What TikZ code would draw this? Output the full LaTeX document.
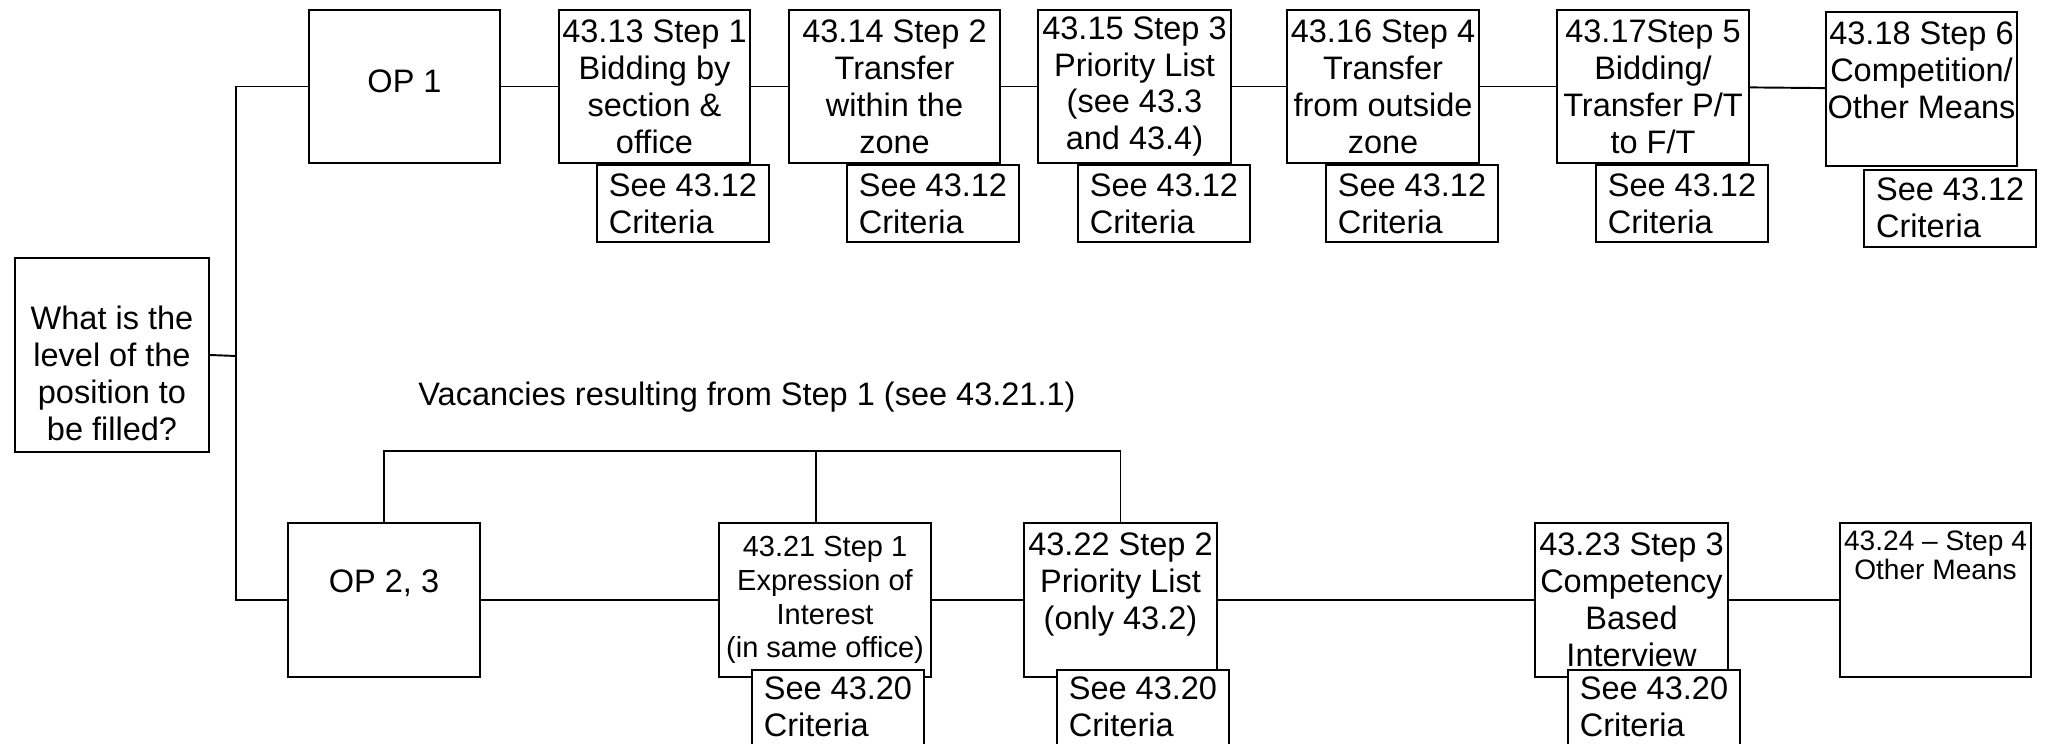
\documentclass[tikz,border=0pt]{standalone}
\usepackage{fontspec}
\setmainfont{Liberation Sans}
\usetikzlibrary{positioning, calc}

\begin{document}
\begin{tikzpicture}[
  stepbox/.style={rectangle, draw, line width=1.1pt, fill=white, align=center, inner sep=1pt, minimum width=3.84cm, minimum height=3.07cm, font=\fontsize{18.5}{21}\selectfont},
  critbox/.style={rectangle, draw, line width=1.1pt, fill=white, align=left, inner sep=1pt, minimum width=3.44cm, minimum height=1.54cm, font=\fontsize{18.5}{21}\selectfont},
  smalltext/.style={font=\fontsize{16.5}{19.3}\selectfont},
  link/.style={line width=1.1pt},
  trunk/.style={line width=0.7pt}
]
\useasboundingbox (0,0) rectangle (41.12,14.86);

% Question
\node[stepbox, minimum width=3.88cm, minimum height=3.88cm] (level) at (2.24,7.76) {\rule{0pt}{1.2cm}What is the\\level of the\\position to\\be filled?};
\coordinate (split) at (4.72,7.74);

% OP 1 stages
\node[stepbox, minimum width=3.82cm, text depth=0.2cm] (op1) at (8.09,13.13) {OP 1};
\node[stepbox, minimum width=3.82cm] (s1) at (13.09,13.13) {43.13 Step 1\\Bidding by\\section \&\\office};
\node[stepbox, minimum width=4.22cm] (s2) at (17.89,13.13) {43.14 Step 2\\Transfer\\within the\\zone};
\node[stepbox, minimum width=3.86cm] (s3) at (22.69,13.13) {43.15 Step 3\\Priority List\\(see 43.3\\and 43.4)};
\node[stepbox] (s4) at (27.66,13.13) {43.16 Step 4\\Transfer\\from outside\\zone};
\node[stepbox] (s5) at (33.06,13.13) {43.17Step 5\\Bidding/\\Transfer P/T\\to F/T};
\node[stepbox, minimum width=3.82cm] (s6) at (38.43,13.08) {43.18 Step 6\\Competition/\\Other Means\\~};

% Connectors OP 1
\draw[link] (split) -- (level.east);
\draw[trunk] (op1.west) -| (split);
\draw[link] (op1) -- (s1);
\draw[link] (s1) -- (s2);
\draw[link] (s2) -- (s3);
\draw[link] (s3) -- (s4);
\draw[link] (s4) -- (s5);
\draw[link] (s5) -- (s6);

% Criteria OP 1
\node[critbox, anchor=north east] (c1) at ($(s1.south east)+(0.38,0)$) {See 43.12\\Criteria};
\node[critbox, anchor=north east] (c2) at ($(s2.south east)+(0.38,0)$) {See 43.12\\Criteria};
\node[critbox, anchor=north east] (c3) at ($(s3.south east)+(0.38,0)$) {See 43.12\\Criteria};
\node[critbox, anchor=north east] (c4) at ($(s4.south east)+(0.38,0)$) {See 43.12\\Criteria};
\node[critbox, anchor=north east] (c5) at ($(s5.south east)+(0.38,0)$) {See 43.12\\Criteria};
\node[critbox, anchor=north east] (c6) at ($(s6.south east)+(0.38,-0.04)$) {See 43.12\\Criteria};

% OP 2, 3 stages
\node[font=\fontsize{18.5}{21}\selectfont] (vacancies) at (14.94,6.92) {Vacancies resulting from Step 1 (see 43.21.1)};
\coordinate (vac) at (0,5.84);

\node[stepbox, text depth=0.75cm] (op23) at (7.68,2.86) {OP 2, 3};
\node[stepbox, smalltext, minimum width=4.24cm] (b1) at (16.5,2.86) {43.21 Step 1\\Expression of\\Interest\\(in same office)};
\node[stepbox, minimum width=3.86cm] (b2) at (22.41,2.86) {43.22 Step 2\\Priority List\\(only 43.2)\\~};
\node[stepbox, minimum width=3.86cm] (b3) at (32.63,2.86) {43.23 Step 3\\Competency\\Based\\Interview};
\node[stepbox, minimum width=3.82cm, font=\fontsize{16}{17}\selectfont] (b4) at (38.71,2.86) {43.24 -- Step 4\\Other Means\\~\\~\\~};

% Connectors OP 2, 3
\draw[trunk] (split) |- (op23.west);
\draw[link] (op23) -- (b1);
\draw[link] (b1) -- (b2);
\draw[link] (b2) -- (b3);
\draw[link] (b3) -- (b4);
\draw[link] (op23.north) -- (op23.north |- vac) -- (b2.north |- vac) -- (b2.north);
\draw[link] ([xshift=-0.18cm]b1.north) -- ([xshift=-0.18cm]b1.north |- vac);

% Criteria OP 2, 3
\node[critbox, minimum height=1.5cm, anchor=north west] (d1) at ($(b1.south west)+(0.66,0.18)$) {See 43.20\\Criteria};
\node[critbox, minimum height=1.5cm, anchor=north west] (d2) at ($(b2.south west)+(0.66,0.18)$) {See 43.20\\Criteria};
\node[critbox, minimum height=1.5cm, anchor=north west] (d3) at ($(b3.south west)+(0.66,0.18)$) {See 43.20\\Criteria};

\end{tikzpicture}
\end{document}
